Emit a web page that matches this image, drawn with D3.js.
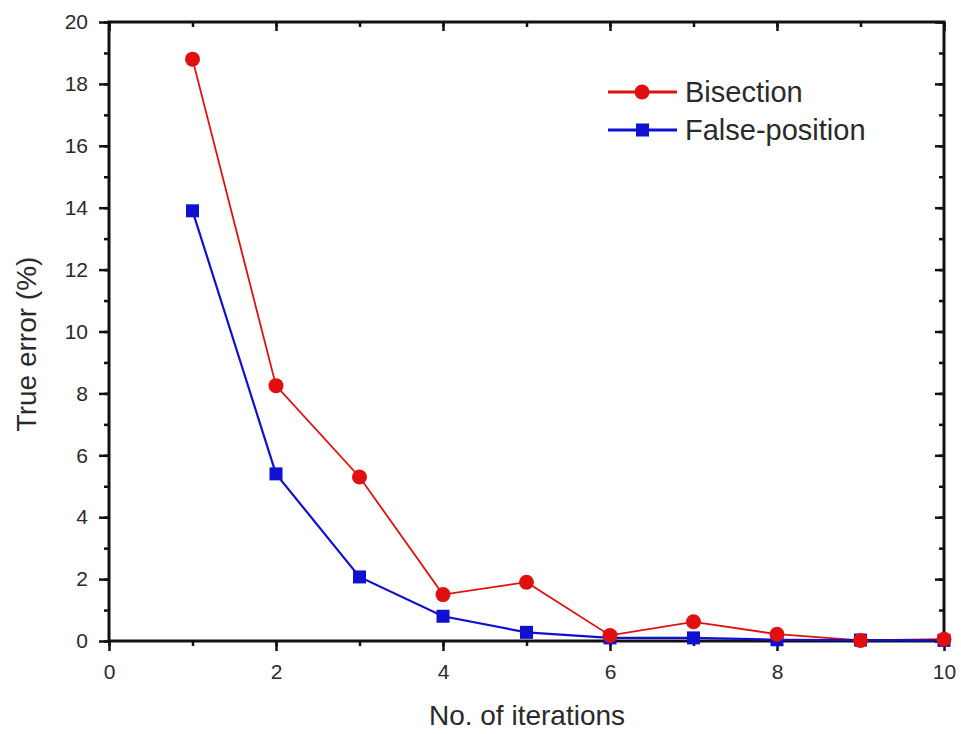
<!DOCTYPE html>
<html><head><meta charset="utf-8">
<script src="https://cdn.jsdelivr.net/npm/d3@7"></script>
<style>body{margin:0;background:#fff}svg{display:block}text{font-family:"Liberation Sans",Arial,sans-serif;fill:#2a2a2a}</style>
</head><body><svg id="c" width="961" height="734"></svg>
<script>
const iterations = [1,2,3,4,5,6,7,8,9,10];
const bisection = [18.8,8.25,5.3,1.5,1.9,0.18,0.62,0.22,0.02,0.06];
const falsePosition = [13.9,5.4,2.07,0.8,0.28,0.1,0.1,0.04,0.03,0.02];
const xTicks = [0,2,4,6,8,10];
const yTicks = [0,2,4,6,8,10,12,14,16,18,20];
const seriesNames = ["Bisection","False-position"];

const svg = d3.select("#c");
const L=109,R=944,T=22,B=641;
const x = d3.scaleLinear().domain([0,10]).range([L,R]);
const y = d3.scaleLinear().domain([0,20]).range([B,T]);
const ax = svg.append("g");

const xMinor = d3.range(0,11,1), yMinor = d3.range(0,21,1);
function styleAxis(g){g.select(".domain").remove();g.selectAll("line").attr("stroke","#111").attr("stroke-width",2.5);}
ax.append("g").attr("transform",`translate(0,${B})`).call(d3.axisBottom(x).tickValues(xMinor).tickSize(5).tickFormat("")).call(styleAxis);
ax.append("g").attr("transform",`translate(0,${B})`).call(d3.axisBottom(x).tickValues(xTicks).tickSize(10).tickPadding(13).tickFormat(d3.format("d"))).call(styleAxis)
  .selectAll("text").attr("font-size",21).style("fill","#2a2a2a");
ax.append("g").attr("transform",`translate(0,${T})`).call(d3.axisBottom(x).tickValues(xMinor).tickSize(5).tickFormat("")).call(styleAxis);
ax.append("g").attr("transform",`translate(0,${T})`).call(d3.axisBottom(x).tickValues(xTicks).tickSize(9).tickFormat("")).call(styleAxis);
ax.append("g").attr("transform",`translate(${L},0)`).call(d3.axisLeft(y).tickValues(yMinor).tickSize(5).tickFormat("")).call(styleAxis);
ax.append("g").attr("transform",`translate(${L},0)`).call(d3.axisLeft(y).tickValues(yTicks).tickSize(10).tickPadding(11).tickFormat(d3.format("d"))).call(styleAxis)
  .selectAll("text").attr("font-size",21).style("fill","#2a2a2a");
ax.append("g").attr("transform",`translate(${R},0)`).call(d3.axisLeft(y).tickValues(yMinor).tickSize(5).tickFormat("")).call(styleAxis);
ax.append("g").attr("transform",`translate(${R},0)`).call(d3.axisLeft(y).tickValues(yTicks).tickSize(9).tickFormat("")).call(styleAxis);
ax.append("rect").attr("x",L).attr("y",T).attr("width",R-L).attr("height",B-T).attr("fill","none").attr("stroke","#111").attr("stroke-width",3);

const line = d3.line().x((d,i)=>x(iterations[i])).y(d=>y(d));
const colors = ["#e01010","#1010d0"];
const widths = [1.8,2.2];
const data = [bisection,falsePosition];
const g = svg.append("g");
data.forEach((s,k)=>{
  g.append("path").attr("d",line(s)).attr("fill","none").attr("stroke",colors[k]).attr("stroke-width",widths[k]);
});
g.selectAll("rect.fp").data(falsePosition).join("rect").attr("class","fp")
  .attr("x",(d,i)=>x(iterations[i])-6.5).attr("y",d=>y(d)-6.5).attr("width",13).attr("height",13).attr("fill",colors[1]);
g.selectAll("circle.bi").data(bisection).join("circle").attr("class","bi")
  .attr("cx",(d,i)=>x(iterations[i])).attr("cy",d=>y(d)).attr("r",7.5).attr("fill",colors[0]);

const lg = svg.append("g");
[92,130].forEach((ly,k)=>{
  lg.append("line").attr("x1",608).attr("x2",677).attr("y1",ly).attr("y2",ly).attr("stroke",colors[k]).attr("stroke-width",3);
  if(k===0) lg.append("circle").attr("cx",642).attr("cy",ly).attr("r",7.5).attr("fill",colors[0]);
  else lg.append("rect").attr("x",636).attr("y",ly-6.5).attr("width",13).attr("height",13).attr("fill",colors[1]);
  lg.append("text").attr("x",685).attr("y",ly+10).attr("font-size",29).text(seriesNames[k]);
});

svg.append("text").attr("x",527).attr("y",725).attr("text-anchor","middle").attr("font-size",28).text("No. of iterations");
svg.append("text").attr("transform",`translate(36,344) rotate(-90)`).attr("text-anchor","middle").attr("font-size",28).text("True error (%)");
</script></body></html>
